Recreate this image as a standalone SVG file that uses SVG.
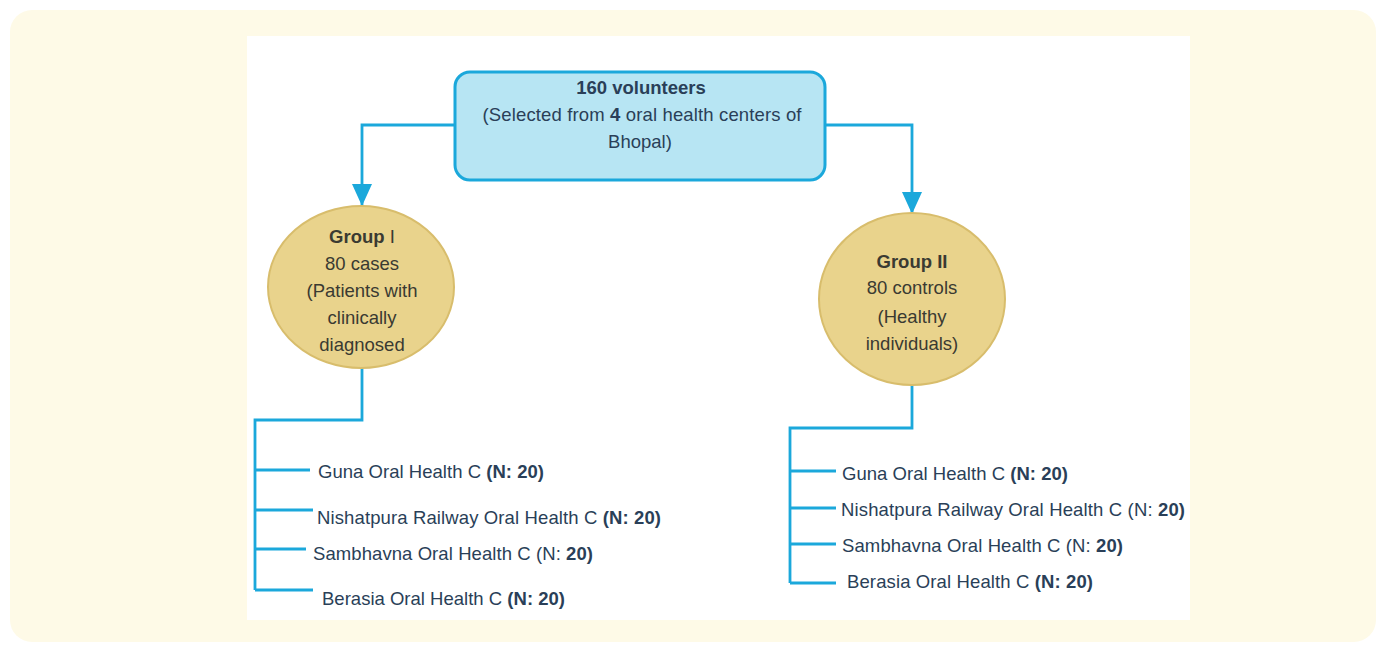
<svg xmlns="http://www.w3.org/2000/svg" width="1386" height="652" viewBox="0 0 1386 652">
<style>
.ln{fill:none;stroke:#1BA8DB;stroke-width:2.8}
.t{font-family:"Liberation Sans",Arial,sans-serif;font-size:18.5px;fill:#2A3F58}
.e{font-family:"Liberation Sans",Arial,sans-serif;font-size:18.5px;fill:#3A3A32;text-anchor:middle}
.tb{fill:#2A3F58}
.b{font-weight:bold}
.el{fill:#E9D38C;stroke:#D8BD6C;stroke-width:2}
</style>
<defs>
<marker id="ah" viewBox="0 0 22 20" refX="22" refY="10" markerWidth="22" markerHeight="20" orient="auto" markerUnits="userSpaceOnUse">
<path d="M0,0 L22,10 L0,20 z" fill="#1BA8DB"/>
</marker>
</defs>
<rect x="10" y="10" width="1366" height="632" rx="22" fill="#FEFAE7"/>
<rect x="247" y="36" width="943" height="584" fill="#FFFFFF"/>
<g id="connectors">
<path class="ln" d="M455,125 H362 V206" marker-end="url(#ah)"/>
<path class="ln" d="M825,125 H912 V214" marker-end="url(#ah)"/>
<path class="ln" d="M362,367 V420 H255 V590"/>
<path class="ln" d="M255,470 H310 M255,510 H313 M255,549 H306 M255,590 H313"/>
<path class="ln" d="M912,385 V428 H790 V583"/>
<path class="ln" d="M790,471 H836 M790,508 H836 M790,544 H836 M790,583 H836"/>
</g>
<g id="top">
<rect x="455" y="72" width="370" height="108" rx="15" fill="#B7E5F3" stroke="#1BA8DB" stroke-width="3"/>
<text class="e tb" x="641" y="94"><tspan class="b">160 volunteers</tspan></text>
<text class="e tb" x="642" y="121" textLength="319" lengthAdjust="spacing">(Selected from <tspan class="b">4</tspan> oral health centers of</text>
<text class="e tb" x="640" y="148">Bhopal)</text>
</g>
<g id="group1">
<ellipse class="el" cx="361" cy="287" rx="93" ry="81"/>
<text class="e" x="362" y="243"><tspan class="b">Group</tspan> I</text>
<text class="e" x="362" y="270">80 cases</text>
<text class="e" x="362" y="297">(Patients with</text>
<text class="e" x="362" y="324">clinically</text>
<text class="e" x="362" y="351">diagnosed</text>
</g>
<g id="group2">
<ellipse class="el" cx="912" cy="299" rx="93" ry="86"/>
<text class="e" x="912" y="268"><tspan class="b">Group II</tspan></text>
<text class="e" x="912" y="294">80 controls</text>
<text class="e" x="912" y="323">(Healthy</text>
<text class="e" x="912" y="350">individuals)</text>
</g>
<g id="list1">
<text class="t" x="318" y="478" textLength="226" lengthAdjust="spacing">Guna Oral Health C <tspan class="b">(N: 20)</tspan></text>
<text class="t" x="317" y="524" textLength="344" lengthAdjust="spacing">Nishatpura Railway Oral Health C <tspan class="b">(N: 20)</tspan></text>
<text class="t" x="313" y="560" textLength="280" lengthAdjust="spacing">Sambhavna Oral Health C (N: <tspan class="b">20)</tspan></text>
<text class="t" x="322" y="605" textLength="243" lengthAdjust="spacing">Berasia Oral Health C <tspan class="b">(N: 20)</tspan></text>
</g>
<g id="list2">
<text class="t" x="842" y="480" textLength="226" lengthAdjust="spacing">Guna Oral Health C <tspan class="b">(N: 20)</tspan></text>
<text class="t" x="841" y="516" textLength="344" lengthAdjust="spacing">Nishatpura Railway Oral Health C (N: <tspan class="b">20)</tspan></text>
<text class="t" x="842" y="552" textLength="281" lengthAdjust="spacing">Sambhavna Oral Health C (N: <tspan class="b">20)</tspan></text>
<text class="t" x="847" y="588" textLength="246" lengthAdjust="spacing">Berasia Oral Health C <tspan class="b">(N: 20)</tspan></text>
</g>
</svg>
